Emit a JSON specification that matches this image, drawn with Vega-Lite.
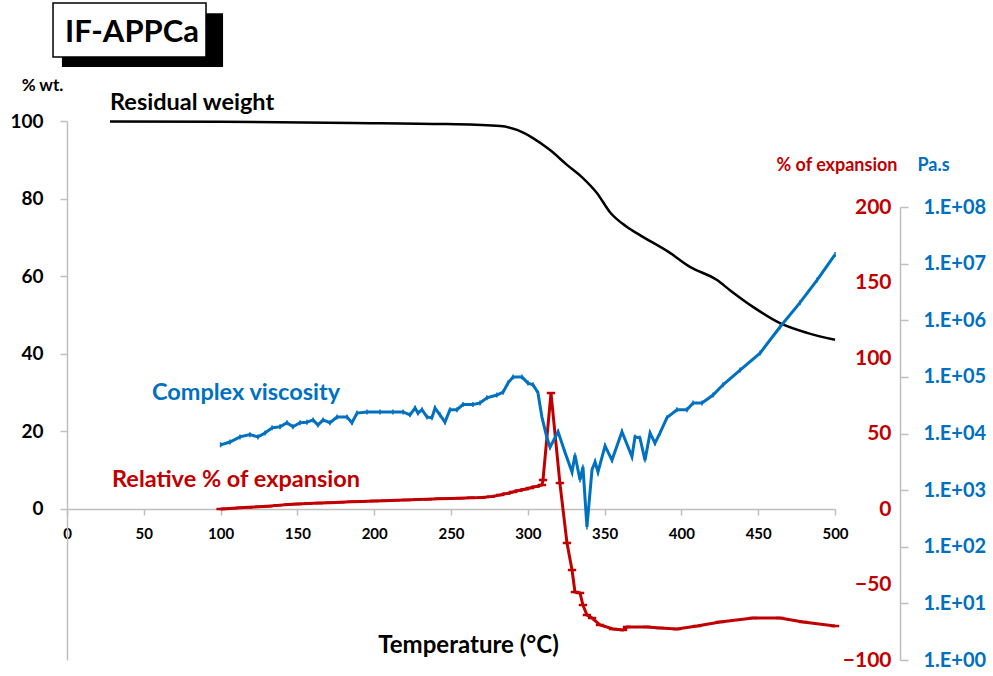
{
  "$schema": "https://vega.github.io/schema/vega-lite/v6.json",
  "width": 768,
  "height": 539,
  "autosize": {"type": "none"},
  "padding": {"left": 67, "top": 121, "right": 158, "bottom": 16},
  "background": "white",
  "config": {
    "font": "Lato",
    "view": {"stroke": null},
    "axis": {"grid": false, "labelFlush": false, "labelOverlap": false, "domainColor": "#BFBFBF", "tickColor": "#BFBFBF", "domainWidth": 1.5, "tickWidth": 1.5, "labelFont": "Lato", "titleFont": "Lato", "labelFontWeight": "bold", "titleFontWeight": "bold"}
  },
  "datasets": {
    "weight": [
      {"T": 28, "w": 99.9}, {"T": 100, "w": 99.8}, {"T": 186, "w": 99.5}, {"T": 247, "w": 99.2},
      {"T": 282, "w": 98.7}, {"T": 293, "w": 97.7}, {"T": 303.4, "w": 95.6}, {"T": 314.5, "w": 92.5},
      {"T": 325.5, "w": 88.7}, {"T": 335.9, "w": 85.3}, {"T": 345.1, "w": 81.4}, {"T": 353.5, "w": 76.5},
      {"T": 364.6, "w": 72.7}, {"T": 373, "w": 70.6}, {"T": 392.6, "w": 66.0}, {"T": 405.6, "w": 62.4},
      {"T": 423.2, "w": 59.0}, {"T": 431.6, "w": 56.4}, {"T": 446.6, "w": 52.1}, {"T": 464.2, "w": 47.9},
      {"T": 481.8, "w": 45.4}, {"T": 500, "w": 43.6}
    ],
    "expansion": [
      {"T": 100, "e": 0}, {"T": 104, "e": 0.2}, {"T": 108, "e": 0.5}, {"T": 113, "e": 0.8}, {"T": 118, "e": 1.1},
      {"T": 125, "e": 1.5}, {"T": 131, "e": 1.9}, {"T": 137, "e": 2.4}, {"T": 144, "e": 2.9}, {"T": 150, "e": 3.3},
      {"T": 157, "e": 3.6}, {"T": 164, "e": 3.9}, {"T": 171, "e": 4.2}, {"T": 178, "e": 4.5}, {"T": 185, "e": 4.8},
      {"T": 192, "e": 5.0}, {"T": 200, "e": 5.3}, {"T": 207, "e": 5.5}, {"T": 214, "e": 5.8}, {"T": 221, "e": 6.0},
      {"T": 228, "e": 6.3}, {"T": 235, "e": 6.5}, {"T": 242, "e": 6.8}, {"T": 250, "e": 7.0}, {"T": 256, "e": 7.2},
      {"T": 263, "e": 7.4}, {"T": 270, "e": 7.6}, {"T": 276, "e": 8.2}, {"T": 282, "e": 9.3}, {"T": 286, "e": 10.2},
      {"T": 290.4, "e": 11.3}, {"T": 294, "e": 12.2}, {"T": 298, "e": 13.1}, {"T": 301.4, "e": 13.9}, {"T": 305, "e": 14.8},
      {"T": 309.2, "e": 15.9}, {"T": 309.9, "e": 19.2}, {"T": 315.1, "e": 76.8},
      {"T": 320.9, "e": 17.2}, {"T": 325.5, "e": -22.5}, {"T": 328.8, "e": -40.4}, {"T": 330.7, "e": -55},
      {"T": 334.0, "e": -55.6}, {"T": 335.9, "e": -63.6}, {"T": 338.5, "e": -70.2}, {"T": 341.8, "e": -72.2},
      {"T": 347.0, "e": -76.8}, {"T": 355.5, "e": -79.5}, {"T": 362.0, "e": -80.1}, {"T": 364.6, "e": -78.1},
      {"T": 377.6, "e": -78.1}, {"T": 386.1, "e": -78.8}, {"T": 397.1, "e": -79.5}, {"T": 410.2, "e": -77.5},
      {"T": 425.1, "e": -74.8}, {"T": 446.6, "e": -72.2}, {"T": 464.2, "e": -72.2}, {"T": 479.2, "e": -74.8},
      {"T": 500, "e": -77.5}
    ],
    "viscosity": [
      {"T": 100, "v": 6310}, {"T": 106.1, "v": 7080}, {"T": 112.6, "v": 8710}, {"T": 119.1, "v": 9550},
      {"T": 124.3, "v": 8710}, {"T": 128.9, "v": 10230}, {"T": 133.5, "v": 12590}, {"T": 138.7, "v": 13180},
      {"T": 143.2, "v": 15490}, {"T": 147.1, "v": 13180}, {"T": 151.7, "v": 15490}, {"T": 156.2, "v": 15850},
      {"T": 160.2, "v": 17380}, {"T": 163.4, "v": 14130}, {"T": 166.7, "v": 17380}, {"T": 171.2, "v": 15490},
      {"T": 175.8, "v": 19500}, {"T": 182.3, "v": 19500}, {"T": 185.5, "v": 15490}, {"T": 188.8, "v": 22910},
      {"T": 195.3, "v": 23990}, {"T": 203.8, "v": 23990}, {"T": 212.2, "v": 23990}, {"T": 218.8, "v": 23990},
      {"T": 223.3, "v": 21380}, {"T": 226.6, "v": 28180}, {"T": 228.5, "v": 22910}, {"T": 231.1, "v": 26300},
      {"T": 234.4, "v": 19500}, {"T": 237.6, "v": 19050}, {"T": 239.6, "v": 28180}, {"T": 242.8, "v": 21380},
      {"T": 246.1, "v": 15850}, {"T": 249.3, "v": 26300}, {"T": 253.9, "v": 26300}, {"T": 257.8, "v": 32360},
      {"T": 264.3, "v": 32360}, {"T": 268.9, "v": 34670}, {"T": 273.4, "v": 42660}, {"T": 279.9, "v": 47860},
      {"T": 283.9, "v": 53700}, {"T": 287.1, "v": 77620}, {"T": 290.4, "v": 100000}, {"T": 296.2, "v": 100000},
      {"T": 300.1, "v": 77620}, {"T": 303.4, "v": 72440}, {"T": 306.6, "v": 52480}, {"T": 309.2, "v": 19500},
      {"T": 312.5, "v": 8320}, {"T": 314.5, "v": 5750}, {"T": 319.7, "v": 10720}, {"T": 324.2, "v": 4680},
      {"T": 328.8, "v": 2090}, {"T": 330.7, "v": 4170}, {"T": 334.0, "v": 1510}, {"T": 335.9, "v": 2570},
      {"T": 338.5, "v": 224}, {"T": 341.8, "v": 2290}, {"T": 343.8, "v": 3160}, {"T": 345.7, "v": 2090},
      {"T": 350.3, "v": 6030}, {"T": 354.8, "v": 3390}, {"T": 361.3, "v": 10720}, {"T": 367.8, "v": 3890},
      {"T": 369.8, "v": 8710}, {"T": 373.0, "v": 8320}, {"T": 376.3, "v": 3390}, {"T": 379.6, "v": 10230},
      {"T": 382.8, "v": 6760}, {"T": 386.1, "v": 10230}, {"T": 390.6, "v": 19050}, {"T": 397.1, "v": 26300},
      {"T": 403.6, "v": 26300}, {"T": 407.6, "v": 34670}, {"T": 413.4, "v": 34670}, {"T": 420.6, "v": 47860},
      {"T": 427.1, "v": 72440}, {"T": 438.2, "v": 131800}, {"T": 451.2, "v": 263000}, {"T": 464.2, "v": 758600},
      {"T": 477.2, "v": 2042000}, {"T": 488.3, "v": 5129000}, {"T": 500, "v": 14450000}
    ]
  },
  "layer": [
    {
      "layer": [
        {
          "data": {"name": "weight"},
          "mark": {"type": "line", "color": "black", "strokeWidth": 2.5, "interpolate": "monotone"},
          "encoding": {
            "x": {"field": "T", "type": "quantitative", "scale": {"domain": [0, 500], "nice": false, "zero": false},
              "axis": {"orient": "bottom", "offset": -151, "values": [0, 50, 100, 150, 200, 250, 300, 350, 400, 450, 500],
                "tickSize": 6, "labelPadding": 11, "labelFontSize": 15, "labelColor": "black",
                "title": "Temperature (°C)", "titleFontSize": 24, "titleColor": "black", "titleX": 401, "titleY": 143,
                "titleBaseline": "alphabetic", "titleAnchor": null, "titleAlign": "center"}},
            "y": {"field": "w", "type": "quantitative", "scale": {"domain": [-38.92, 100], "nice": false, "zero": false},
              "axis": {"orient": "left", "values": [0, 20, 40, 60, 80, 100], "tickSize": 7, "labelPadding": 17,
                "labelFontSize": 19, "labelColor": "black",
                "title": "% wt.", "titleAngle": 0, "titleFontSize": 17, "titleColor": "black",
                "titleX": -25, "titleY": -36, "titleAlign": "center", "titleBaseline": "middle"}}
          }
        },
        {
          "data": {"values": [{}]},
          "mark": {"type": "rect", "color": "black"},
          "encoding": {"x": {"datum": -3.3}, "x2": {"datum": 101.6}, "y": {"datum": 127.8}, "y2": {"datum": 113.9}}
        },
        {
          "data": {"values": [{}]},
          "mark": {"type": "rect", "fill": "white", "stroke": "black", "strokeWidth": 1.5},
          "encoding": {"x": {"datum": -9.1}, "x2": {"datum": 90.5}, "y": {"datum": 130.4}, "y2": {"datum": 116.5}}
        },
        {
          "data": {"values": [{}]},
          "mark": {"type": "text", "text": "IF-APPCa", "font": "Lato", "fontWeight": "bold", "fontSize": 31, "color": "black", "align": "left", "baseline": "alphabetic"},
          "encoding": {"x": {"datum": -1.3}, "y": {"datum": 120.4}}
        },
        {
          "data": {"values": [{}]},
          "mark": {"type": "text", "text": "Residual weight", "font": "Lato", "fontWeight": "bold", "fontSize": 23.5, "color": "black", "align": "left", "baseline": "alphabetic"},
          "encoding": {"x": {"datum": 28}, "y": {"datum": 102.84}}
        },
        {
          "data": {"values": [{}]},
          "mark": {"type": "text", "text": "Complex viscosity", "font": "Lato", "fontWeight": "bold", "fontSize": 23.5, "color": "#0070C0", "align": "left", "baseline": "alphabetic"},
          "encoding": {"x": {"datum": 55.3}, "y": {"datum": 28.1}}
        },
        {
          "data": {"values": [{}]},
          "mark": {"type": "text", "text": "Relative % of expansion", "font": "Lato", "fontWeight": "bold", "fontSize": 23.5, "color": "#C00000", "align": "left", "baseline": "alphabetic"},
          "encoding": {"x": {"datum": 29.3}, "y": {"datum": 5.67}}
        }
      ]
    },
    {
      "data": {"name": "expansion"},
      "layer": [
        {
          "mark": {"type": "line", "color": "#C00000", "strokeWidth": 3},
          "encoding": {
            "x": {"field": "T", "type": "quantitative"},
            "y": {"field": "e", "type": "quantitative", "scale": {"domain": [-100, 200], "range": [539, 86], "nice": false, "zero": false},
              "axis": {"orient": "right", "offset": 65, "domain": false, "ticks": false, "values": [-100, -50, 0, 50, 100, 150, 200],
                "labelAlign": "right", "labelPadding": -9, "labelFontSize": 21, "labelColor": "#C00000",
                "title": "% of expansion", "titleAngle": 0, "titleFontSize": 18, "titleColor": "#C00000",
                "titleX": -3, "titleY": 44, "titleAlign": "right", "titleBaseline": "middle"}}
          }
        },
        {
          "mark": {"type": "point", "shape": "M-1,0L1,0", "size": 70, "filled": false, "stroke": "#C00000", "strokeWidth": 2.5, "opacity": 1},
          "encoding": {
            "x": {"field": "T", "type": "quantitative"},
            "y": {"field": "e", "type": "quantitative"}
          }
        }
      ]
    },
    {
      "data": {"name": "viscosity"},
      "layer": [
        {
          "mark": {"type": "line", "color": "#0070C0", "strokeWidth": 3},
          "encoding": {
            "x": {"field": "T", "type": "quantitative"},
            "y": {"field": "v", "type": "quantitative", "scale": {"type": "log", "domain": [1, 100000000], "range": [539, 86], "nice": false},
              "axis": {"orient": "right", "offset": 65, "values": [1, 10, 100, 1000, 10000, 100000, 1000000, 10000000, 100000000],
                "tickSize": 8, "labelPadding": 15, "labelAlign": "left", "labelFontSize": 20, "labelColor": "#0070C0",
                "labelExpr": "'1.E+0' + round(log(datum.value) / LN10)",
                "title": "Pa.s", "titleAngle": 0, "titleFontSize": 18, "titleColor": "#0070C0",
                "titleX": 17, "titleY": 44, "titleAlign": "left", "titleBaseline": "middle"}}
          }
        },
        {
          "mark": {"type": "point", "shape": "M0,-1L0,1", "size": 25, "filled": false, "stroke": "#0070C0", "strokeWidth": 1.5, "opacity": 1},
          "encoding": {
            "x": {"field": "T", "type": "quantitative"},
            "y": {"field": "v", "type": "quantitative"}
          }
        }
      ]
    }
  ],
  "resolve": {"scale": {"y": "independent"}, "axis": {"y": "independent"}}
}
